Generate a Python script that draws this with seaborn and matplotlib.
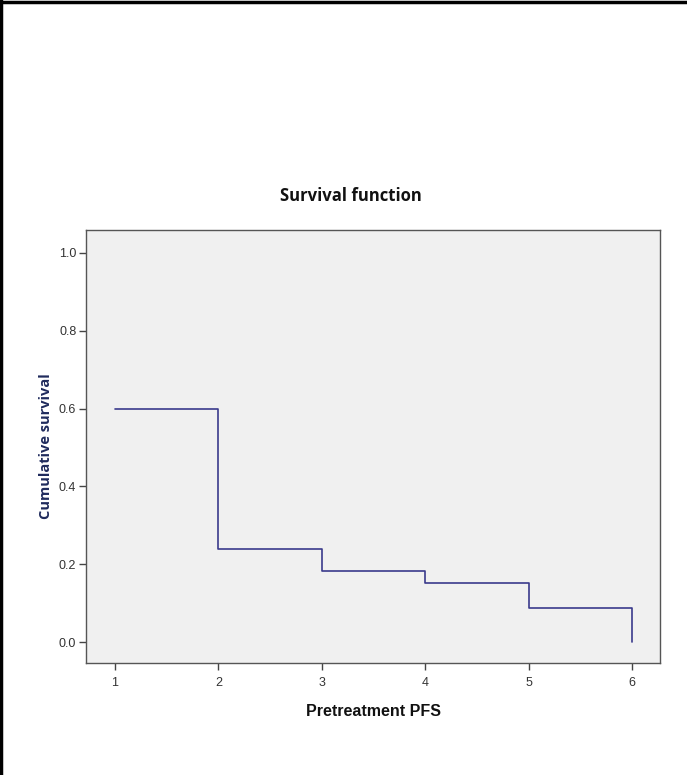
import numpy as np
import pandas as pd
import matplotlib
matplotlib.use('Agg')
import matplotlib.pyplot as plt
from matplotlib.lines import Line2D
import seaborn as sns

# Survival steps
pfs_time = [1, 2, 3, 4, 5, 6, 6]
cum_survival = [0.60, 0.238, 0.183, 0.152, 0.087, 0.087, 0.0]
x_ticks = [1, 2, 3, 4, 5, 6]
y_ticks = [0.0, 0.2, 0.4, 0.6, 0.8, 1.0]

df = pd.DataFrame({'time': pfs_time, 'surv': cum_survival})

sns.set_style('white')
plt.rcParams['font.family'] = ['Liberation Sans', 'DejaVu Sans']

fig = plt.figure(figsize=(6.87, 7.75), dpi=100)
ax = fig.add_axes([0.1252, 0.1445, 0.8355, 0.5587])
ax.set_facecolor('#f0f0f0')

sns.lineplot(data=df, x='time', y='surv', ax=ax, estimator=None, sort=False,
             drawstyle='steps-post', color='#3a3a8c', linewidth=1.2)

ax.set_xlim(0.72, 6.27)
ax.set_ylim(-0.054, 1.059)
ax.set_xticks(x_ticks)
ax.set_xticklabels([str(t) for t in x_ticks])
ax.set_yticks(y_ticks)
ax.set_yticklabels([f'{t:.1f}' for t in y_ticks])
ax.tick_params(axis='both', bottom=True, left=True, direction='out', length=5, width=1,
               color='#444444', labelsize=9, labelcolor='#333333', pad=2)
ax.tick_params(axis='x', pad=5)
for s in ax.spines.values():
    s.set_color('#555555')
    s.set_linewidth(1.0)

ax.set_xlabel('Pretreatment PFS', fontsize=11.5, fontweight='bold', labelpad=11, color='#111111')
ax.set_ylabel('Cumulative survival', fontsize=10.5, fontweight='bold', color='#1f2a5c',
              family=['Open Sans', 'DejaVu Sans'])
ax.yaxis.set_label_coords(-0.058, 0.5)
ax.set_title('Survival function', fontsize=12, fontweight='bold', pad=21, x=0.461,
             family=['Open Sans', 'DejaVu Sans'], color='#111111')

# outer frame (left and top edges)
fig.add_artist(Line2D([0.002, 0.002], [0, 1], color='black', linewidth=2.5, transform=fig.transFigure))
fig.add_artist(Line2D([0, 1], [0.998, 0.998], color='black', linewidth=2.5, transform=fig.transFigure))

fig.savefig('out.png', dpi=100)
